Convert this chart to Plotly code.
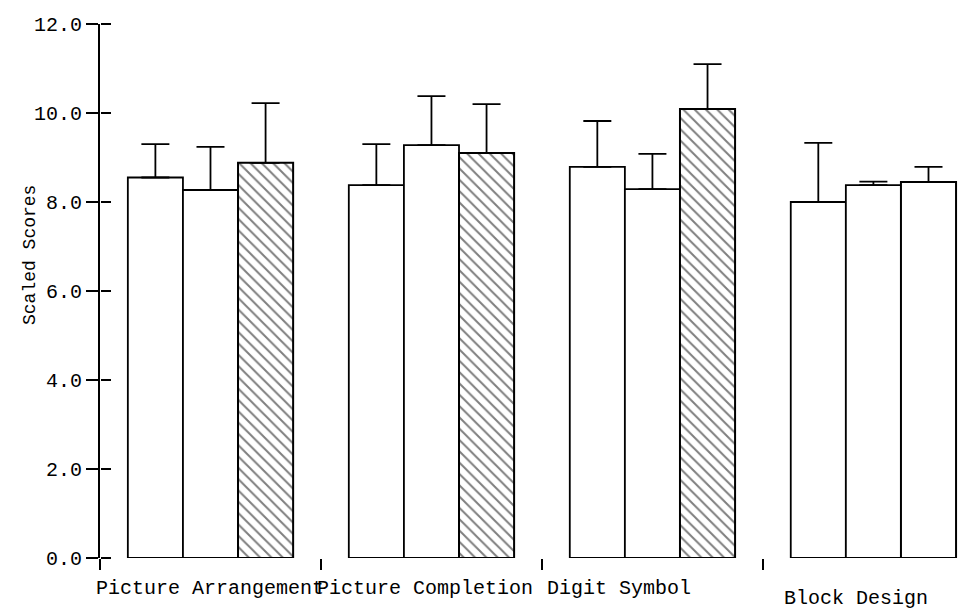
import plotly.graph_objects as go

categories = ["Picture Arrangement", "Picture Completion", "Digit Symbol", "Block Design"]
series_a = [8.55, 8.38, 8.79, 8.0]
series_a_err = [0.75, 0.92, 1.03, 1.33]
series_b = [8.27, 9.28, 8.29, 8.38]
series_b_err = [0.97, 1.10, 0.79, 0.08]
series_c = [8.88, 9.10, 10.09, 8.45]
series_c_err = [1.34, 1.10, 1.01, 0.34]
y_ticks = [0, 2, 4, 6, 8, 10, 12]
y_tick_labels = ["0.0", "2.0", "4.0", "6.0", "8.0", "10.0", "12.0"]

x_idx = list(range(len(categories)))
mono = "Liberation Mono"

def err(arr):
    return dict(type="data", symmetric=False, array=arr, arrayminus=[0] * len(arr),
                color="black", thickness=1.8, width=14)

fig = go.Figure()
fig.add_trace(go.Bar(x=x_idx, y=series_a, error_y=err(series_a_err),
                     marker=dict(color="white", line=dict(color="black", width=1.8))))
fig.add_trace(go.Bar(x=x_idx, y=series_b, error_y=err(series_b_err),
                     marker=dict(color="white", line=dict(color="black", width=1.8))))
fig.add_trace(go.Bar(x=x_idx, y=series_c, error_y=err(series_c_err),
                     marker=dict(color="white", line=dict(color="black", width=2),
                                 pattern=dict(shape=["\\", "\\", "\\", ""], fgcolor="black",
                                              bgcolor="white", size=8, solidity=0.25))))

# category labels placed under each group
label_shift = [0.0, -0.03, -0.15, -0.08]
label_yshift = [-17, -17, -17, -27]
for i, lab in enumerate(categories):
    fig.add_annotation(x=i + label_shift[i], y=0, xref="x", yref="paper", text=lab,
                       showarrow=False, yanchor="top", yshift=label_yshift[i],
                       font=dict(family=mono, size=20, color="black"))

fig.add_annotation(xref="paper", yref="paper", x=(30 - 100) / 864, y=(558 - 255) / 534,
                   xanchor="center", yanchor="middle", text="Scaled Scores",
                   showarrow=False, textangle=-90,
                   font=dict(family=mono, size=18, color="black"))

fig.update_layout(
    width=974, height=610,
    margin=dict(l=100, r=10, t=24, b=52),
    paper_bgcolor="white", plot_bgcolor="white",
    barmode="group", bargap=0.252, bargroupgap=0,
    showlegend=False,
    xaxis=dict(type="category", range=[-0.5, 3.41], showline=False, showgrid=False,
               zeroline=False, showticklabels=False, ticks="outside", tickson="boundaries",
               ticklen=11, tickwidth=1.8, tickcolor="black"),
    yaxis=dict(range=[0, 12], tickvals=y_ticks, ticktext=y_tick_labels, showgrid=False,
               zeroline=False, showline=True, linecolor="black", linewidth=2,
               ticks="outside", ticklen=12, tickwidth=1.8, tickcolor="black",
               tickfont=dict(family=mono, size=20, color="black")),
    yaxis2=dict(range=[0, 12], overlaying="y", side="right", anchor="free", position=0,
                tickvals=y_ticks, showticklabels=False, showgrid=False, zeroline=False,
                showline=False, ticks="outside", ticklen=10, tickwidth=1.8,
                tickcolor="black"),
)
fig.add_trace(go.Scatter(x=[0], y=[0], yaxis="y2", mode="markers", showlegend=False,
                         marker=dict(opacity=0), hoverinfo="skip"))

fig.write_html("out.html")
